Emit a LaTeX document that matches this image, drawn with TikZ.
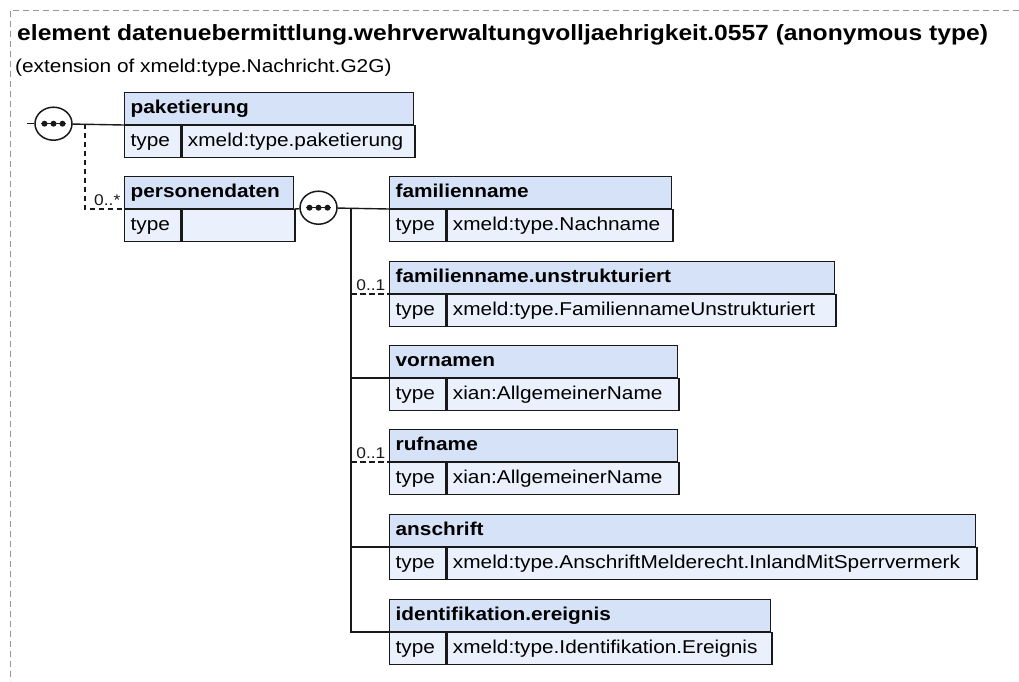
\documentclass[tikz,border=0pt]{standalone}
\usepackage{fontspec}
\setmainfont{Liberation Sans}[FakeStretch=1.12]
\usepackage{tikz}
\usetikzlibrary{positioning, shapes.geometric}

\definecolor{hdrfill}{RGB}{214,226,247}
\definecolor{rowfill}{RGB}{234,241,252}
\definecolor{framegray}{RGB}{150,150,150}

\begin{document}
\begin{tikzpicture}[
    x=1pt, y=-1pt,
    every node/.style={font=\fontsize{18.6}{22}\selectfont},
    hdr/.style={rectangle, draw=black!90, line width=1.3pt, fill=hdrfill, anchor=north west, align=left, text width=#1, minimum height=31.7pt, text height=13.5pt, text depth=4.5pt, inner xsep=6pt, inner ysep=0pt, font=\fontsize{18.6}{22}\selectfont\bfseries},
    cell/.style={rectangle, draw=black!90, line width=1.3pt, fill=rowfill, anchor=north west, align=left, text width=#1, minimum height=31.7pt, text height=13.5pt, text depth=4.5pt, inner xsep=6pt, inner ysep=0pt},
    seq/.style={ellipse, draw=black!90, line width=1.5pt, fill=white, minimum width=37pt, minimum height=33pt, inner sep=0pt},
    mult/.style={font=\fontsize{15.5}{18}\selectfont, anchor=base east, inner sep=0pt, xshift=-3pt, yshift=3.5pt},
    conn/.style={line width=1.4pt, black!90},
    opt/.style={conn, dash pattern=on 5.5pt off 3.5pt},
    frame/.style={framegray, line width=1pt, dash pattern=on 6pt off 4pt},
]
\useasboundingbox (0,0) rectangle (1019,681);

% outer frame
\draw[frame] (1019,10) -- (10,10) -- (10,681);

\node[anchor=base west, inner sep=0pt, font=\fontsize{22}{26}\selectfont\bfseries] (title) at (17,40.5) {element datenuebermittlung.wehrverwaltungvolljaehrigkeit.0557 (anonymous type)};
\node[anchor=base west, inner sep=0pt] (subtitle) at (15,72) {(extension of xmeld:type.Nachricht.G2G)};

% top level sequence
\node[seq] (seq1) at (53.5,123.7) {};
\coordinate (rootin) at (27,123.7);
\coordinate (brk) at (85,123.7);

\node[hdr=277pt] (paket) at (124,92) {paketierung};
\node[cell=44pt] (paket-t) at (paket.south west) {type};
\node[cell=221pt] (paket-v) at (paket-t.north east) {xmeld:type.paketierung};

\node[hdr=157pt] (person) at (124,176) {personendaten};
\node[cell=44pt] (person-t) at (person.south west) {type};
\node[cell=101pt] (person-v) at (person-t.north east) {};

\draw[conn] (rootin) -- (seq1);
\draw[conn] (seq1) -- (paket.south west);
\draw[opt] (brk) |- (person.south west) node[mult] {0..*};

% personendaten sequence
\node[seq] (seq2) at (318.5,207.7) {};
\coordinate (trunk) at (351,207.7);

\node[hdr=270pt] (famname) at (389,176) {familienname};
\node[cell=44pt] (famname-t) at (famname.south west) {type};
\node[cell=214pt] (famname-v) at (famname-t.north east) {xmeld:type.Nachname};

\node[hdr=433pt] (famunstr) at (389,261) {familienname.unstrukturiert};
\node[cell=44pt] (famunstr-t) at (famunstr.south west) {type};
\node[cell=377pt] (famunstr-v) at (famunstr-t.north east) {xmeld:type.FamiliennameUnstrukturiert};

\node[hdr=276pt] (vorname) at (389,345) {vornamen};
\node[cell=44pt] (vorname-t) at (vorname.south west) {type};
\node[cell=220pt] (vorname-v) at (vorname-t.north east) {xian:AllgemeinerName};

\node[hdr=276pt] (rufname) at (389,429) {rufname};
\node[cell=44pt] (rufname-t) at (rufname.south west) {type};
\node[cell=220pt] (rufname-v) at (rufname-t.north east) {xian:AllgemeinerName};

\node[hdr=574pt] (anschr) at (389,514) {anschrift};
\node[cell=44pt] (anschr-t) at (anschr.south west) {type};
\node[cell=518pt] (anschr-v) at (anschr-t.north east) {xmeld:type.AnschriftMelderecht.InlandMitSperrvermerk};

\node[hdr=369pt] (ident) at (389,599) {identifikation.ereignis};
\node[cell=44pt] (ident-t) at (ident.south west) {type};
\node[cell=313pt] (ident-v) at (ident-t.north east) {xmeld:type.Identifikation.Ereignis};

\draw[conn] (person.south east) -- (seq2);
\draw[conn] (seq2) -- (famname.south west);
\draw[conn] (trunk) |- (ident.south west);
\draw[opt] (trunk |- famunstr.south west) -- (famunstr.south west) node[mult] {0..1};
\draw[conn] (trunk |- vorname.south west) -- (vorname.south west);
\draw[opt] (trunk |- rufname.south west) -- (rufname.south west) node[mult] {0..1};
\draw[conn] (trunk |- anschr.south west) -- (anschr.south west);

% sequence dots
\foreach \s in {seq1, seq2} {
    \draw[conn] ([xshift=-12.5pt]\s.center) -- ([xshift=12.5pt]\s.center);
    \foreach \d in {-9,0,9}
        \fill[black!90] ([xshift=\d pt]\s.center) circle (3pt);
}

\end{tikzpicture}
\end{document}
